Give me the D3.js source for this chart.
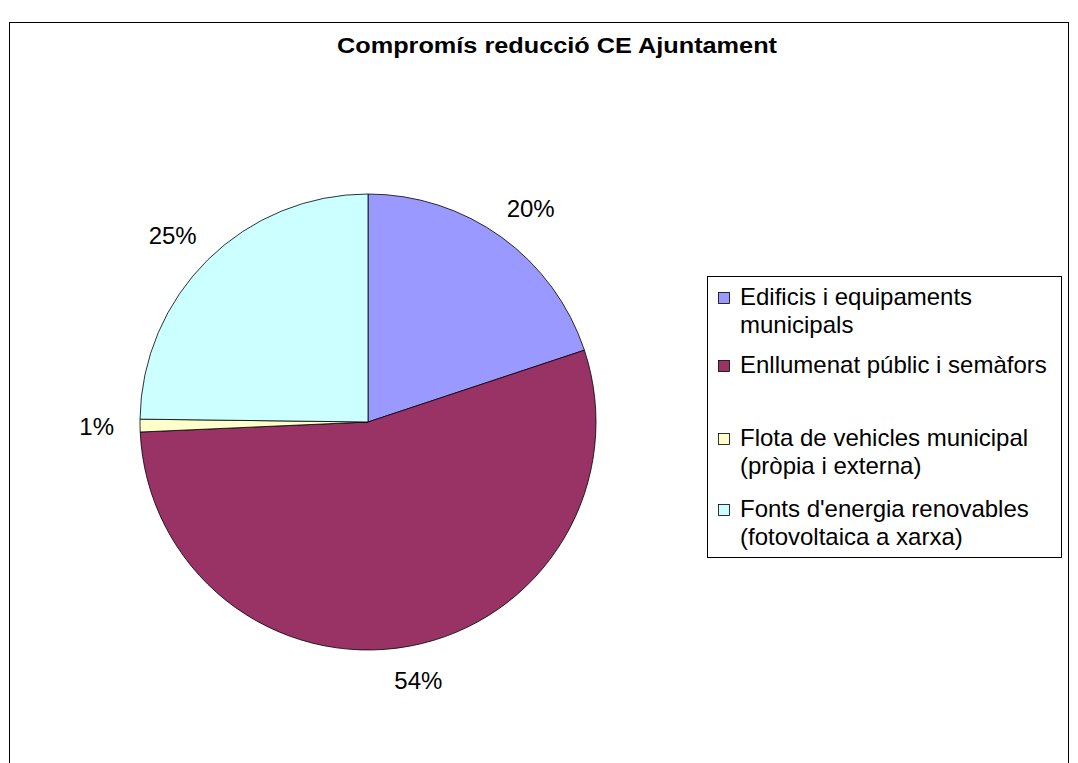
<!DOCTYPE html>
<html><head><meta charset="utf-8">
<script src="https://cdn.jsdelivr.net/npm/d3@7"></script>
<style>body{margin:0;background:#fff}svg{display:block}</style>
</head><body>
<svg id="c" width="1078" height="763"></svg>
<script>
const title = "Compromís reducció CE Ajuntament";
const categories = ["Edificis i equipaments municipals","Enllumenat públic i semàfors","Flota de vehicles municipal (pròpia i externa)","Fonts d'energia renovables (fotovoltaica a xarxa)"];
const legendLines = [["Edificis i equipaments","municipals"],["Enllumenat públic i semàfors"],["Flota de vehicles municipal","(pròpia i externa)"],["Fonts d'energia renovables","(fotovoltaica a xarxa)"]];
const values = [19.9, 54.4, 0.9, 24.8];
const labels = ["20%","54%","1%","25%"];
const colors = ["#9999FF","#993366","#FFFFCC","#CCFFFF"];

const svg = d3.select("#c");
const font = "'Liberation Sans', Arial, sans-serif";
svg.append("rect").attr("x",9.5).attr("y",22.5).attr("width",1059).attr("height",800)
  .attr("fill","#fff").attr("stroke","#000").attr("stroke-width",1);
svg.append("text").attr("x",557).attr("y",53).attr("text-anchor","middle")
  .attr("font-family",font).attr("font-weight","bold").attr("font-size",22)
  .attr("textLength",440).attr("lengthAdjust","spacingAndGlyphs").text(title);

const cx=368, cy=422, R=228, gap=26, fs=24;
const pie = d3.pie().sort(null).value(d=>d)(values);
const arc = d3.arc().innerRadius(0).outerRadius(R);
const g = svg.append("g").attr("transform",`translate(${cx},${cy})`);
g.selectAll("path").data(pie).join("path").attr("d",arc)
  .attr("fill",(d,i)=>colors[i]).attr("stroke","#000").attr("stroke-width",0.8);
const lab = g.selectAll("text").data(pie).join("text")
  .attr("text-anchor","middle").attr("dy","0.35em")
  .attr("font-family",font).attr("font-size",fs).text((d,i)=>labels[i]);
lab.each(function(d){
  const a=(d.startAngle+d.endAngle)/2, s=Math.sin(a), c=-Math.cos(a);
  const w=this.getComputedTextLength(), h=fs*0.72;
  const x=(R+gap)*s + s*w/2, y=(R+gap)*c + c*h/2;
  d3.select(this).attr("x",x).attr("y",y);
});

const lg = svg.append("g");
lg.append("rect").attr("x",707.5).attr("y",276.5).attr("width",354).attr("height",281)
  .attr("fill","#fff").attr("stroke","#000").attr("stroke-width",1);
const itemY = [305,373,446,517];
legendLines.forEach((lines,i)=>{
  lg.append("rect").attr("x",718.5).attr("y",itemY[i]-12.5).attr("width",11).attr("height",11)
    .attr("fill",colors[i]).attr("stroke","#000").attr("stroke-width",0.8);
  const t = lg.append("text").attr("font-family",font).attr("font-size",fs);
  lines.forEach((l,j)=>t.append("tspan").attr("x",740).attr("y",itemY[i]+j*28).text(l));
});
</script>
</body></html>
